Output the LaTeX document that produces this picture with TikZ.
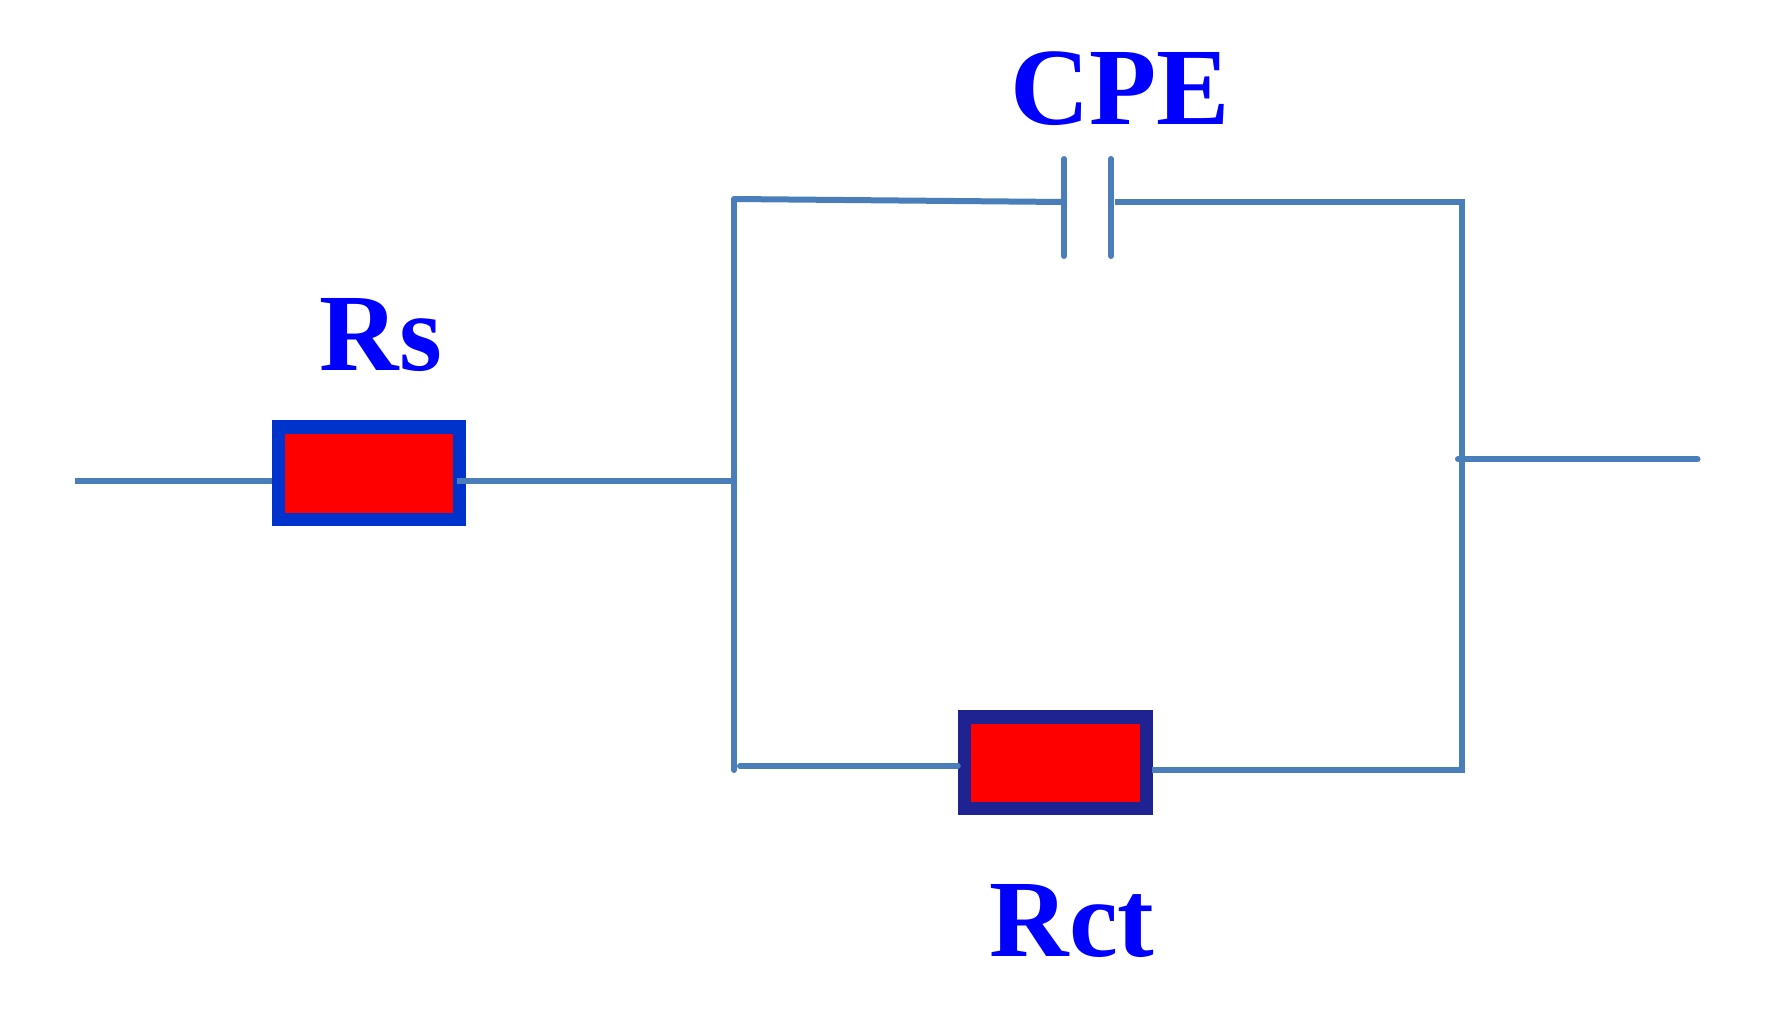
\documentclass[tikz,border=0pt]{standalone}
\usepackage{fontspec}
\setmainfont{Liberation Serif}
\definecolor{wire}{HTML}{4A7EBB}
\definecolor{rsedge}{HTML}{0033CC}
\definecolor{rctedge}{HTML}{1F2391}
\definecolor{labelblue}{HTML}{0000FF}
\tikzset{
  wireline/.style={draw=wire,line width=6pt},
  roundwire/.style={wireline,line cap=round},
  resistor/.style={rectangle,fill=red,line width=13.5pt,inner sep=0pt,minimum width=181pt,minimum height=92.5pt},
  complabel/.style={text=labelblue,font=\fontsize{110}{110}\selectfont\bfseries,inner sep=0pt,anchor=base west},
}
\begin{document}
\begin{tikzpicture}[x=1pt,y=-1pt]
\useasboundingbox[fill=white] (0,0) rectangle (1792,1012);
% junction and end points
\coordinate (inL) at (75,480.5);
\coordinate (jL) at (734,480.5);
\coordinate (topL) at (734,199);
\coordinate (botL) at (734,770);
\coordinate (botR) at (1461.5,769.5);
\coordinate (topR) at (1461.5,202);
\coordinate (outL) at (1458,459);
\coordinate (outR) at (1697.5,459);
\coordinate (p1t) at (1064,159);
\coordinate (p1b) at (1064,256);
\coordinate (p2t) at (1111,159);
\coordinate (p2b) at (1111,256);
\coordinate (p1m) at (1064,202);
\coordinate (p2m) at (1115,202);
\coordinate (botS) at (740,766);
% resistors
\node[resistor,draw=rsedge] (rs) at (369,473) {};
\node[resistor,draw=rctedge,minimum width=182pt,minimum height=91.5pt] (rct) at (1055.5,762.5) {};
% wires
\draw[wireline] (inL) -- (inL -| rs.west);
\draw[wireline] ([xshift=-9pt]rs.east |- jL) -- (jL);
\draw[wireline,line cap=round] (botL) -- (topL);
\draw[wireline] (topL) -- (p1m);
\draw[roundwire] (p1t) -- (p1b);
\draw[roundwire] (p2t) -- (p2b);
\draw[wireline] (p2m) -- (topR) -- (botR) -- ([xshift=-1pt]rct.east |- botR);
\draw[wireline,line cap=round] (botS) -- (botS -| rct.west);
\draw[roundwire] (outL) -- (outR);
% labels
\node[complabel] (lrs) at (319.5,370) {Rs};
\node[complabel] (lcpe) at (1010,124) {CPE};
\node[complabel] (lrct) at (989.5,956) {Rct};
\end{tikzpicture}
\end{document}
